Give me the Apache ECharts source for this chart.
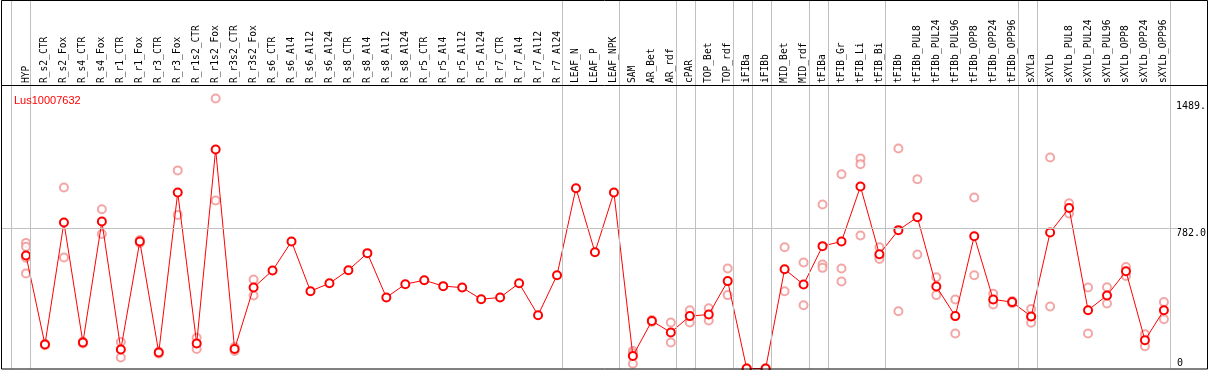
<!DOCTYPE html>
<html><head><meta charset="utf-8">
<script src="https://cdn.jsdelivr.net/npm/echarts@6/dist/echarts.min.js"></script>
<style>html,body{margin:0;padding:0;background:#fff}#c{width:1209px;height:370px}</style>
</head><body><div id="c"></div><script>
const title = 'Lus10007632';
const categories = ['HYP','R_s2_CTR','R_s2_Fox','R_s4_CTR','R_s4_Fox','R_r1_CTR','R_r1_Fox','R_r3_CTR','R_r3_Fox','R_r1s2_CTR','R_r1s2_Fox','R_r3s2_CTR','R_r3s2_Fox','R_s6_CTR','R_s6_Al4','R_s6_Al12','R_s6_Al24','R_s8_CTR','R_s8_Al4','R_s8_Al12','R_s8_Al24','R_r5_CTR','R_r5_Al4','R_r5_Al12','R_r5_Al24','R_r7_CTR','R_r7_Al4','R_r7_Al12','R_r7_Al24','LEAF_N','LEAF_P','LEAF_NPK','SAM','AR_Bet','AR_rdf','cPAR','TOP_Bet','TOP_rdf','iFIBa','iFIBb','MID_Bet','MID_rdf','tFIBa','tFIB_Gr','tFIB_Li','tFIB_Bi','tFIBb','tFIBb_PUL8','tFIBb_PUL24','tFIBb_PUL96','tFIBb_OPP8','tFIBb_OPP24','tFIBb_OPP96','sXYLa','sXYLb','sXYLb_PUL8','sXYLb_PUL24','sXYLb_PUL96','sXYLb_OPP8','sXYLb_OPP24','sXYLb_OPP96'];
const meanValues = [630,134,814,145,819,106,708,89,981,139,1221,109,451,546,708,431,475,548,643,396,470,492,459,451,386,396,475,297,520,1005,648,981,70,265,201,292,301,487,0,0,553,468,682,708,1014,637,771,843,457,292,737,385,370,290,758,894,325,407,542,158,325];
const replicateValues = [
 [700,678,617,530],[130,138],[1009,619],[140,150],[888,750],[148,61],[700,716],[95,83],[1104,856],[171,109],[1505,936],[120,98],[496,407],
 [],[],[],[],[],[],[],[],[],[],[],[],[],[],[],[],[],[],[],
 [98,85,26],[260,270],[256,145],[325,256],[336,268],[557,409],[0,0],[0,0],[676,431],[591,353],
 [914,580,561],[1083,557,485],[1171,1139,741],[676,625,610],
 [1226,319],[1055,635],[509,409],[385,195],[953,520],[416,357],[376,364],
 [332,285,255],[1176,346],[921,864],[451,195],[453,362],[565,516],[191,124],[370,275]
];
const groupLast = ['HYP','R_r7_Al24','LEAF_NPK','AR_rdf','cPAR','TOP_rdf','iFIBa','iFIBb','MID_rdf','tFIBa','tFIB_Bi','tFIBb_OPP96','sXYLa','sXYLb_OPP96'];
const refValue = 782;
const yTickValues = [0, 782, 1489];
const yTickLabels = ['0', '782.0', '1489.'];
const yMax = 1580;

// layout
const W = 1209, H = 370;
const plotLeft = 26, plotRight = 43, headerH = 85, plotBottom = 1.5;
const helpLeft = 1, helpRight = 31;
const step = (W - plotLeft - plotRight) / (categories.length - 1);
const hxMin = -(plotLeft - helpLeft) / step;
const hxMax = (categories.length - 1) + ((W - helpRight) - (W - plotRight)) / step;
const sepOffset = 0.23;

const boundaries = [-1 + sepOffset].concat(groupLast.map(n => categories.indexOf(n) + sepOffset));
const vLines = boundaries.map(b => ({ xAxis: b }));
const mono = 'DejaVu Sans Mono';
const grey = '#c0c0c0';

const repData = [];
replicateValues.forEach((arr, i) => arr.forEach(v => repData.push([categories[i], v])));

const lbl = (v) => { const k = yTickValues.indexOf(v); return k >= 0 ? yTickLabels[k] : ''; };

const chart = echarts.init(document.getElementById('c'), null, { renderer: 'canvas' });
chart.setOption({
  animation: false,
  backgroundColor: '#fff',
  title: { text: title, left: 9, top: 90, textStyle: { color: '#ff0000', fontSize: 11, fontWeight: 'normal', fontFamily: 'Liberation Sans' } },
  grid: [
    { left: plotLeft, right: plotRight, top: headerH, bottom: plotBottom },
    { left: helpLeft, right: helpRight, top: 0, height: headerH },
    { left: helpLeft, right: helpRight, top: headerH, bottom: plotBottom }
  ],
  xAxis: [
    { type: 'category', gridIndex: 0, data: categories, position: 'top', boundaryGap: false,
      axisLine: { show: false }, axisTick: { show: false }, splitLine: { show: false },
      axisLabel: { rotate: 90, interval: 0, margin: 2, fontFamily: mono, fontSize: 9.6, color: '#000' } },
    { type: 'value', gridIndex: 1, min: hxMin, max: hxMax, show: false },
    { type: 'value', gridIndex: 2, min: hxMin, max: hxMax, show: false }
  ],
  yAxis: [
    { type: 'value', gridIndex: 0, min: 0, max: yMax, position: 'right',
      axisLine: { show: false }, axisTick: { show: false }, splitLine: { show: false },
      axisLabel: { customValues: [yTickValues[1], yTickValues[2]], formatter: lbl, margin: 12, verticalAlign: 'top', fontFamily: mono, fontSize: 10, color: '#000' } },
    { type: 'value', gridIndex: 0, min: 0, max: yMax, position: 'right',
      axisLine: { show: false }, axisTick: { show: false }, splitLine: { show: false },
      axisLabel: { customValues: [yTickValues[0]], formatter: lbl, margin: 13, verticalAlign: 'bottom', fontFamily: mono, fontSize: 10, color: '#000' } },
    { type: 'value', gridIndex: 1, min: 0, max: 1, show: false },
    { type: 'value', gridIndex: 2, min: 0, max: yMax, show: false }
  ],
  series: [
    { type: 'line', xAxisIndex: 1, yAxisIndex: 2, data: [], silent: true,
      markLine: { silent: true, symbol: ['none', 'none'], label: { show: false }, animation: false,
        lineStyle: { color: grey, width: 1, type: 'solid' }, data: vLines } },
    { type: 'line', xAxisIndex: 2, yAxisIndex: 3, data: [], silent: true,
      markLine: { silent: true, symbol: ['none', 'none'], label: { show: false }, animation: false,
        lineStyle: { color: grey, width: 1, type: 'solid' }, data: vLines.concat([{ yAxis: refValue }]) } },
    { type: 'scatter', xAxisIndex: 0, yAxisIndex: 0, data: repData, symbol: 'emptyCircle', symbolSize: 8,
      itemStyle: { color: '#f09090', borderColor: '#f09090', borderWidth: 1 }, z: 3 },
    { type: 'line', xAxisIndex: 0, yAxisIndex: 0, data: meanValues, symbol: 'emptyCircle', symbolSize: 8, showAllSymbol: true,
      lineStyle: { color: '#ff0000', width: 1 }, itemStyle: { color: '#ff0000', borderColor: '#ff0000', borderWidth: 1.6 }, z: 4 }
  ],
  graphic: [
    { type: 'rect', z: 100, silent: true, shape: { x: 1.5, y: 0.5, width: 1206, height: 368.5 }, style: { fill: null, stroke: '#000', lineWidth: 1 } },
    { type: 'line', z: 100, silent: true, shape: { x1: 1.5, y1: headerH + 0.5, x2: 1207.5, y2: headerH + 0.5 }, style: { stroke: '#000', lineWidth: 1 } }
  ]
});
</script></body></html>
